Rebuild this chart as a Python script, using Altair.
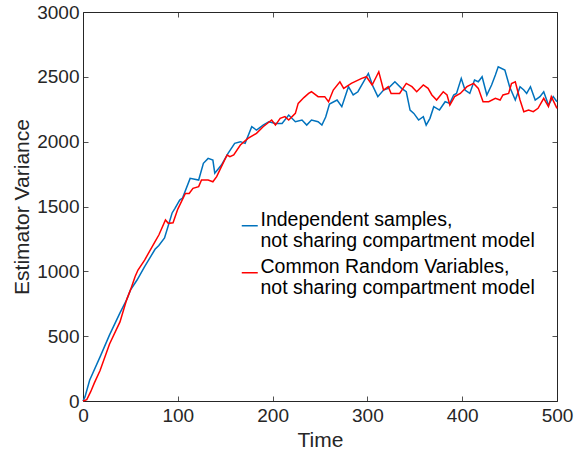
import altair as alt
import pandas as pd

# ---- data ----
blue_t = [0, 2, 7, 18, 28, 39, 46, 50, 57, 65, 76, 80, 86, 94, 97, 102, 105, 113, 122, 127,
          132, 137, 139, 146, 153, 160, 166, 171, 178, 183, 190, 196, 203, 210, 217, 224, 231,
          236, 241, 248, 252, 256, 260, 268, 273, 280, 285, 290, 301, 306, 311, 317, 322, 329,
          336, 341, 345, 349, 354, 359, 362, 366, 370, 376, 382, 387, 391, 394, 399, 403, 408,
          413, 417, 421, 426, 431, 435, 438, 445, 450, 456, 461, 465, 468, 472, 477, 482, 486,
          491, 496, 500]
blue_v = [0, 30, 160, 340, 510, 680, 780, 855, 933, 1036, 1170, 1200, 1257, 1450, 1486, 1550,
          1565, 1717, 1704, 1833, 1871, 1858, 1757, 1820, 1910, 1987, 2000, 1987, 2115, 2090,
          2128, 2154, 2141, 2141, 2205, 2154, 2167, 2128, 2167, 2154, 2128, 2190, 2290, 2321,
          2270, 2424, 2360, 2385, 2526, 2424, 2347, 2398, 2411, 2462, 2411, 2385, 2244, 2218,
          2167, 2193, 2128, 2180, 2270, 2244, 2308, 2295, 2360, 2372, 2488, 2398, 2372, 2475,
          2462, 2501, 2360, 2437, 2514, 2578, 2552, 2424, 2321, 2424, 2398, 2372, 2424, 2321,
          2347, 2385, 2282, 2347, 2308]

red_t = [0, 4, 8, 12, 18, 28, 39, 46, 50, 55, 58, 65, 76, 80, 87, 90, 95, 100, 108, 112, 116,
         122, 125, 132, 137, 141, 146, 152, 155, 159, 166, 174, 183, 190, 199, 203, 208, 213,
         217, 224, 227, 233, 238, 241, 248, 255, 259, 264, 271, 275, 283, 294, 299, 305, 312,
         317, 322, 325, 334, 341, 347, 352, 359, 364, 368, 373, 380, 384, 387, 392, 398, 405,
         412, 417, 422, 428, 435, 440, 443, 449, 452, 456, 461, 465, 470, 475, 480, 486, 491,
         494, 500]
red_v = [0, 10, 70, 140, 235, 440, 610, 780, 855, 960, 1010, 1087, 1230, 1280, 1396, 1370,
         1375, 1480, 1600, 1600, 1640, 1653, 1704, 1704, 1691, 1730, 1807, 1897, 1884, 1897,
         1974, 2025, 2064, 2115, 2167, 2128, 2180, 2193, 2167, 2218, 2295, 2340, 2372, 2385,
         2347, 2347, 2308, 2398, 2462, 2411, 2449, 2488, 2501, 2437, 2539, 2398, 2424, 2372,
         2372, 2449, 2424, 2385, 2437, 2411, 2360, 2321, 2385, 2360, 2282, 2347, 2372, 2424,
         2449, 2411, 2308, 2308, 2334, 2321, 2360, 2372, 2449, 2462, 2321, 2231, 2244, 2231,
         2257, 2334, 2270, 2347, 2257]

series_names = ["Independent samples,|not sharing compartment model",
                "Common Random Variables,|not sharing compartment model"]
series_colors = ["#0072BD", "#FF0000"]
x_ticks = [0, 100, 200, 300, 400, 500]
y_ticks = [0, 500, 1000, 1500, 2000, 2500, 3000]

df = pd.concat([
    pd.DataFrame({"t": blue_t, "v": blue_v, "series": series_names[0], "order": 0}),
    pd.DataFrame({"t": red_t, "v": red_v, "series": series_names[1], "order": 1}),
], ignore_index=True)

FONT = "Liberation Sans"
INK = "#262626"

xscale = alt.Scale(domain=[0, 500], nice=False, zero=False)
yscale = alt.Scale(domain=[0, 3000], nice=False)

common_axis = dict(domain=False, grid=False, offset=-5, tickSize=5, tickColor=INK,
                   tickWidth=0.8, labelFont=FONT, labelFontSize=19, labelColor=INK,
                   labelFlush=False, labelOverlap=False, titleFont=FONT, titleFontSize=21,
                   titleFontWeight="normal", titleColor=INK, format="d")

lines = alt.Chart(df).mark_line(strokeWidth=1.5).encode(
    x=alt.X("t:Q", scale=xscale,
            axis=alt.Axis(values=x_ticks, orient="bottom", labelPadding=5, title="Time",
                          titlePadding=4, **common_axis)),
    y=alt.Y("v:Q", scale=yscale,
            axis=alt.Axis(values=y_ticks, orient="left", labelPadding=4,
                          title="Estimator Variance", titlePadding=4, **common_axis)),
    color=alt.Color("series:N", sort=series_names,
                    scale=alt.Scale(domain=series_names, range=series_colors),
                    legend=alt.Legend(title=None, orient="none", legendX=157, legendY=204,
                                      symbolType="stroke", symbolSize=256,
                                      symbolStrokeWidth=1.5, labelExpr="split(datum.label, '|')",
                                      labelBaseline="alphabetic",
                                      labelFont=FONT, labelFontSize=19.5, labelColor="#000000",
                                      labelOffset=1, rowPadding=5, padding=0,
                                      labelLimit=500)),
    order=alt.Order("order:Q"),
)

frame = alt.Chart(df).mark_line(opacity=0).encode(
    x=alt.X("t:Q", scale=xscale,
            axis=alt.Axis(values=x_ticks, orient="top", labels=False, title=None,
                          **common_axis)),
    y=alt.Y("v:Q", scale=yscale,
            axis=alt.Axis(values=y_ticks, orient="right", labels=False, title=None,
                          **common_axis)),
    detail="series:N",
)

chart = alt.layer(lines, frame).resolve_axis(x="independent", y="independent").properties(
    width=474, height=389,
    autosize=alt.AutoSizeParams(type="none"),
    padding={"left": 83, "top": 12, "right": 24, "bottom": 55},
    background="white",
).configure_view(stroke=INK, strokeWidth=1)

chart.save("out.html", embed_options={"renderer": "svg", "actions": False})
